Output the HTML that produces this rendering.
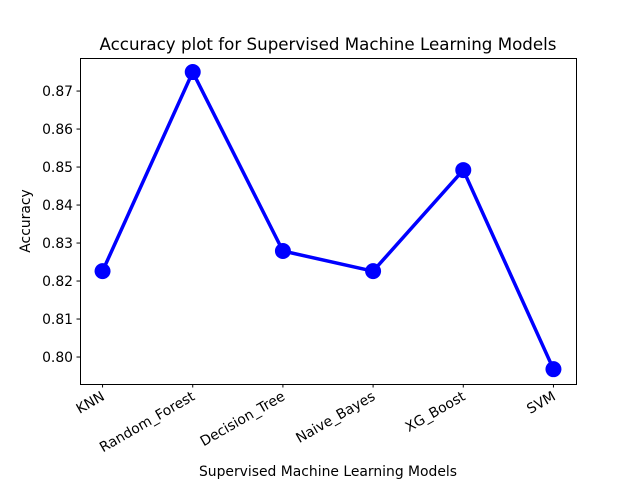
<!DOCTYPE html>
<html><head><meta charset="utf-8"><style>
body{margin:0;background:#fff;}
svg text{font-family:"DejaVu Sans","Liberation Sans",sans-serif;fill:#000;}
</style></head><body>
<svg id="chart" width="640" height="480" viewBox="0 0 640 480">
<rect x="0" y="0" width="640" height="480" fill="#fff"/>
<text x="328" y="50" text-anchor="middle" font-size="16.7">Accuracy plot for Supervised Machine Learning Models</text>
<text x="328" y="476" text-anchor="middle" font-size="13.9">Supervised Machine Learning Models</text>
<text transform="translate(30,221) rotate(-90)" text-anchor="middle" font-size="13.9">Accuracy</text>
<g id="ticks"></g>
<g id="series"></g>
<rect x="80.5" y="58.5" width="496" height="326" fill="none" stroke="#000" stroke-width="1"/>
</svg>
<script>
const categories=["KNN","Random_Forest","Decision_Tree","Naive_Bayes","XG_Boost","SVM"];
const accuracy=[0.8226,0.8750,0.8279,0.8226,0.8492,0.7968];
const yTicks=[0.80,0.81,0.82,0.83,0.84,0.85,0.86,0.87];
const yTickLabels=["0.80","0.81","0.82","0.83","0.84","0.85","0.86","0.87"];
const NS="http://www.w3.org/2000/svg";
const L=80,R=576,T=58,B=384,xmin=-0.25,xmax=5.25,ymin=0.7929,ymax=0.8787;
function xs(i){return L+(i-xmin)/(xmax-xmin)*(R-L);}
function ys(v){return B-(v-ymin)/(ymax-ymin)*(B-T);}
function mk(t,a,p){const e=document.createElementNS(NS,t);for(const k in a)e.setAttribute(k,a[k]);p.appendChild(e);return e;}
const tg=document.getElementById('ticks'),sg=document.getElementById('series');
yTicks.forEach((v,i)=>{const y=ys(v);
const tl=mk('line',{x1:L-3.5,x2:L,y1:y,y2:y,stroke:'#000'},tg);


const t=mk('text',{x:L-7,y:y+5,'text-anchor':'end','font-size':'13.9'},tg);t.textContent=yTickLabels[i];

});
categories.forEach((c,i)=>{const x=xs(i);
const tl=mk('line',{x1:x,x2:x,y1:B,y2:B+3.5,stroke:'#000'},tg);


const t=mk('text',{transform:`translate(${x+3},${B+15}) rotate(-30)`,'text-anchor':'end','font-size':'13.9'},tg);t.textContent=c;

});
const pts=accuracy.map((v,i)=>xs(i)+','+ys(v)).join(' ');
const pl=mk('polyline',{points:pts,fill:'none',stroke:'#0000ff','stroke-width':3.5,'stroke-linejoin':'round'},sg);


accuracy.forEach((v,i)=>{const c=mk('circle',{cx:xs(i),cy:ys(v),r:8,fill:'#0000ff'},sg);

});
</script>
</body></html>
